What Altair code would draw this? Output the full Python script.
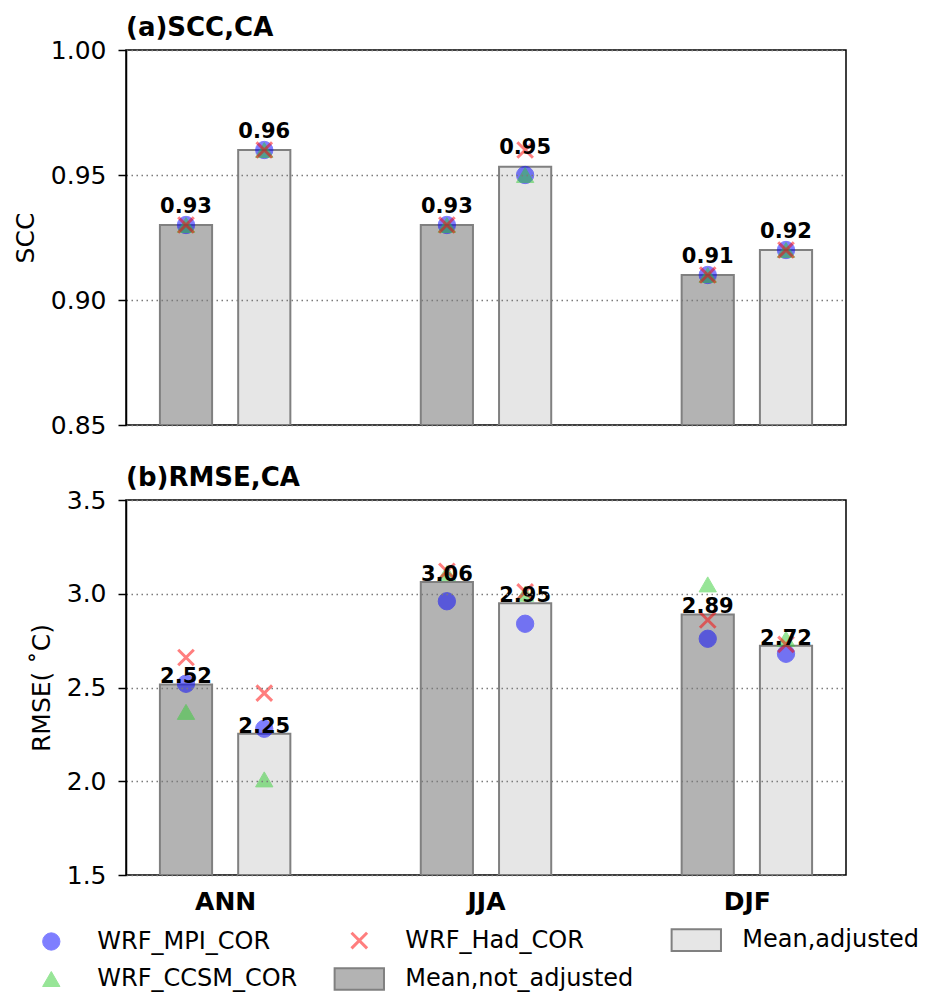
import altair as alt
import pandas as pd

FONT = "DejaVu Sans"

seasons = ["ANN", "JJA", "DJF"]
models = ["WRF_MPI_COR", "WRF_CCSM_COR", "WRF_Had_COR"]
bar_kinds = ["Mean,not_adjusted", "Mean,adjusted"]

# (a) SCC
scc_not_adj_mpi = [0.93, 0.93, 0.91]
scc_not_adj_ccsm = [0.93, 0.93, 0.91]
scc_not_adj_had = [0.93, 0.93, 0.91]
scc_adj_mpi = [0.96, 0.95, 0.92]
scc_adj_ccsm = [0.96, 0.95, 0.92]
scc_adj_had = [0.96, 0.96, 0.92]

# (b) RMSE
rmse_not_adj_mpi = [2.52, 2.96, 2.76]
rmse_not_adj_ccsm = [2.37, 3.11, 3.05]
rmse_not_adj_had = [2.66, 3.12, 2.86]
rmse_adj_mpi = [2.28, 2.84, 2.68]
rmse_adj_ccsm = [2.01, 3.00, 2.76]
rmse_adj_had = [2.47, 3.01, 2.73]

# legend / style tables (order: MPI, CCSM, Had, Mean not adjusted, Mean adjusted)
legend_order = models + bar_kinds
X_PATH = "M-0.9,-0.9L0.9,0.9M-0.9,0.9L0.9,-0.9"
RECT_PATH = "M-2.85,-1.25L2.85,-1.25L2.85,1.25L-2.85,1.25Z"
shape_range = ["circle", "triangle-up", X_PATH, RECT_PATH, RECT_PATH]
fill_range = ["#0000ff", "#32cd32", "transparent", "#b3b3b3", "#e6e6e6"]
stroke_range = ["#0000ff", "#32cd32", "#ff0000", "#808080", "#808080"]
opacity_range = [0.5, 0.5, 0.5, 1.0, 1.0]
width_range = [1.0, 1.0, 3.0, 2.0, 2.0]


def build_frames(not_adj, adj):
    pts, bars = [], []
    for kind, group in zip(bar_kinds, [not_adj, adj]):
        for i, s in enumerate(seasons):
            vals = [group[m][i] for m in models]
            for m, v in zip(models, vals):
                pts.append({"season": s, "idx": i, "kind": kind, "series": m, "value": v})
            bars.append({"season": s, "idx": i, "series": kind, "mean": sum(vals) / len(vals)})
    return pd.DataFrame(pts), pd.DataFrame(bars)


scc_pts, scc_bars = build_frames(
    {"WRF_MPI_COR": scc_not_adj_mpi, "WRF_CCSM_COR": scc_not_adj_ccsm, "WRF_Had_COR": scc_not_adj_had},
    {"WRF_MPI_COR": scc_adj_mpi, "WRF_CCSM_COR": scc_adj_ccsm, "WRF_Had_COR": scc_adj_had},
)
rmse_pts, rmse_bars = build_frames(
    {"WRF_MPI_COR": rmse_not_adj_mpi, "WRF_CCSM_COR": rmse_not_adj_ccsm, "WRF_Had_COR": rmse_not_adj_had},
    {"WRF_MPI_COR": rmse_adj_mpi, "WRF_CCSM_COR": rmse_adj_ccsm, "WRF_Had_COR": rmse_adj_had},
)

POS_EXPR = "datum.idx + (datum.{f} === 'Mean,not_adjusted' ? -0.15 : 0.15)"


def panel(pts, bars, ymin, ymax, yticks, yfmt, ytitle, title, bottom):
    if bottom:
        leg = alt.Legend(
            title=None, orient="none", legendX=-86.7, legendY=428, columns=3,
            labelFont=FONT, labelFontSize=24, labelColor="black", labelLimit=400,
            symbolSize=300, symbolOffset=0, labelOffset=34, columnPadding=33,
            rowPadding=9, padding=0,
        )
        label_expr = "[" + ",".join(f"'{s}'" for s in seasons) + "][round(datum.value)]"
        xaxis = alt.Axis(values=[0, 1, 2], labelExpr=label_expr, ticks=False, grid=False,
                         title=None, labelFontSize=25, labelFontWeight="bold",
                         labelPadding=14, domain=False, labelColor="black")
    else:
        leg = None
        xaxis = None

    def sc(rng, t=None):
        if t:
            return alt.Scale(type=t, domain=legend_order, range=rng)
        return alt.Scale(domain=legend_order, range=rng)

    xscale = alt.Scale(domain=[-0.38, 2.38], nice=False, zero=False)
    yscale = alt.Scale(domain=[ymin, ymax], nice=False, zero=False)
    yaxis = alt.Axis(values=yticks, format=yfmt, title=ytitle, grid=True,
                     gridDash=[1.5, 3.5], gridColor="#7a7a7a", gridWidth=1.3,
                     tickSize=8, tickWidth=1.5, tickColor="black", domainColor="black",
                     domainWidth=1.5, labelFontSize=25, titleFontSize=25,
                     titleFontWeight="normal", labelPadding=12, titlePadding=12,
                     zindex=1, labelColor="black", titleColor="black")

    bar_layer = alt.Chart(bars).transform_calculate(
        pos=POS_EXPR.format(f="series"),
    ).transform_calculate(
        left="datum.pos - 0.1", right="datum.pos + 0.1"
    ).mark_rect(clip=True).encode(
        x=alt.X("left:Q", scale=xscale, axis=xaxis),
        x2="right:Q",
        y=alt.Y("mean:Q", scale=yscale, axis=yaxis),
        y2=alt.datum(ymin),
        fill=alt.Fill("series:N", scale=sc(fill_range), legend=leg),
        stroke=alt.Stroke("series:N", scale=sc(stroke_range), legend=leg),
        strokeWidth=alt.StrokeWidth("series:N", scale=sc(width_range, "ordinal"), legend=leg),
    )

    point_layer = alt.Chart(pts).transform_calculate(
        pos=POS_EXPR.format(f="kind"),
    ).mark_point(size=300).encode(
        x=alt.X("pos:Q", scale=xscale, axis=xaxis),
        y=alt.Y("value:Q", scale=yscale, axis=yaxis),
        shape=alt.Shape("series:N", scale=sc(shape_range), legend=leg),
        fill=alt.Fill("series:N", scale=sc(fill_range), legend=leg),
        stroke=alt.Stroke("series:N", scale=sc(stroke_range), legend=leg),
        opacity=alt.Opacity("series:N", scale=sc(opacity_range, "ordinal"), legend=leg),
        strokeWidth=alt.StrokeWidth("series:N", scale=sc(width_range, "ordinal"), legend=leg),
    )

    text_layer = alt.Chart(bars).transform_calculate(
        pos=POS_EXPR.format(f="series"),
    ).transform_calculate(
        ly="datum.mean + 0.005"
    ).mark_text(baseline="alphabetic", align="center", font=FONT, fontSize=21,
                fontWeight="bold", color="black").encode(
        x=alt.X("pos:Q", scale=xscale, axis=xaxis),
        y=alt.Y("ly:Q", scale=yscale, axis=yaxis),
        text=alt.Text("mean:Q", format=".2f"),
    )

    return alt.layer(bar_layer, point_layer, text_layer).properties(
        width=720, height=375,
        title=alt.Title(title, anchor="start", frame="group", fontSize=26,
                        fontWeight="bold", font=FONT, offset=-3, color="black"),
    )


top = panel(scc_pts, scc_bars, 0.85, 1.0, [0.85, 0.90, 0.95, 1.00], ".2f", "SCC",
            "(a)SCC,CA", False)
bottom = panel(rmse_pts, rmse_bars, 1.5, 3.5, [1.5, 2.0, 2.5, 3.0, 3.5], ".1f",
               "RMSE( \u02daC)", "(b)RMSE,CA", True)

chart = alt.vconcat(top, bottom, spacing=25).resolve_scale(
    fill="independent", stroke="independent", shape="independent",
    opacity="independent", strokeWidth="independent",
).resolve_legend(
    fill="independent", stroke="independent", shape="independent",
    opacity="independent", strokeWidth="independent",
).properties(
    padding={"left": 4, "top": 6, "right": 0, "bottom": 0}
).configure_view(
    stroke="black", strokeWidth=1.5
).configure_axis(
    labelFont=FONT, titleFont=FONT
)

chart.save("out.html", embed_options={"renderer": "svg", "actions": False})
